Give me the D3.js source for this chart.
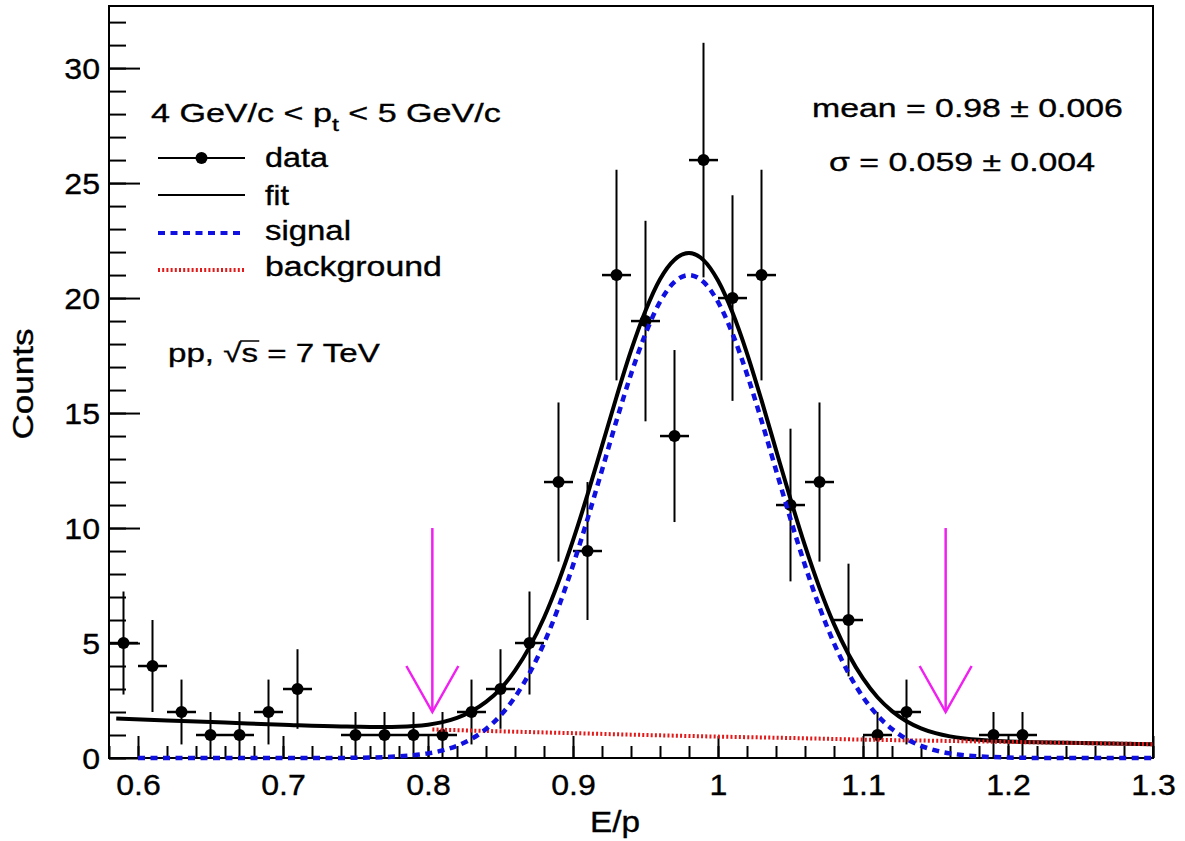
<!DOCTYPE html>
<html>
<head>
<meta charset="utf-8">
<title>E/p fit</title>
<script src="https://cdn.jsdelivr.net/npm/d3@7/dist/d3.min.js"></script>
<style>
  body { margin: 0; background: #fff; }
  text { font-family: "Liberation Sans", Arial, Helvetica, sans-serif; fill: #000; stroke: #000; stroke-width: 0.35; }
</style>
</head>
<body>
<script>
//////// data ////////
// histogram bins (empty bins are not drawn)
var binE      = [0.59,0.61,0.63,0.65,0.67,0.69,0.71,0.75,0.77,0.79,0.81,0.83,0.85,0.87,0.89,
                 0.91,0.93,0.95,0.97,0.99,1.01,1.03,1.05,1.07,1.09,1.11,1.13,1.19,1.21];
var binCounts = [5,4,2,1,1,2,3,1,1,1,1,2,3,5,12,9,21,19,14,26,20,21,11,12,6,1,2,1,1];
var binErr    = [2.24,2,1.41,1,1,1.41,1.73,1,1,1,1,1.41,1.73,2.24,3.46,3,4.58,4.36,3.74,5.1,
                 4.47,4.58,3.32,3.46,2.45,1,1.41,1,1];
var binHalfWidth = 0.01;

// fit curves
var gridE = [0.74,0.75,0.76,0.77,0.78,0.79,0.80,0.81,0.82,0.83,0.84,0.85,0.86,0.87,0.88,0.89,
             0.90,0.91,0.92,0.93,0.94,0.95,0.96,0.97,0.98,0.99,1.00,1.01,1.02,1.03,1.04,1.05,
             1.06,1.07,1.08,1.09,1.10,1.11,1.12,1.13,1.14,1.15,1.16,1.17,1.18,1.19,1.20,1.21,1.22];

var sigE      = [0.60,0.65,0.70].concat(gridE, [1.25,1.30]);
var sigCounts = [0,0,0,
                 0.00,0.01,0.02,0.04,0.07,0.12,0.20,0.33,0.53,0.83,1.26,1.85,2.65,3.69,4.99,6.56,
                 8.38,10.39,12.52,14.67,16.69,18.45,19.83,20.70,21.00,20.70,19.83,18.45,16.69,14.67,12.52,10.39,
                 8.38,6.56,4.99,3.69,2.65,1.85,1.26,0.83,0.53,0.33,0.20,0.12,0.07,0.04,0.02,0.01,0.00,
                 0,0];

var fitE      = [0.585,0.62,0.66,0.70].concat(gridE, [1.26,1.30]);
var fitCounts = [1.72,1.63,1.54,1.45,
                 1.37,1.36,1.35,1.35,1.36,1.39,1.45,1.56,1.74,2.03,2.44,3.01,3.80,4.82,6.10,7.66,
                 9.46,11.45,13.57,15.70,17.71,19.45,20.82,21.67,21.96,21.65,20.76,19.37,17.60,15.56,13.40,11.26,
                 9.23,7.40,5.82,4.51,3.46,2.64,2.04,1.60,1.29,1.08,0.94,0.85,0.79,0.75,0.72,0.70,0.69,
                 0.64,0.60];

var bgE      = [0.803,0.85,0.90,0.95,1.00,1.05,1.10,1.15,1.20,1.25,1.30];
var bgCounts = [1.24,1.16,1.08,1.00,0.93,0.87,0.80,0.75,0.70,0.65,0.60];

// mean -/+ 3 sigma arrows
var arrowE = [0.803, 1.157];
var arrowFrom = 10, arrowTo = 2;

// axes
var xTickVals   = [0.6,0.7,0.8,0.9,1.0,1.1,1.2,1.3];
var xTickLabels = ["0.6","0.7","0.8","0.9","1","1.1","1.2","1.3"];
var yTickVals   = [0,5,10,15,20,25,30];
var yTickLabels = ["0","5","10","15","20","25","30"];

var legendNames = ["data","fit","signal","background"];

//////// svg ////////
var w = 1185, h = 841;
var margin = {top: 6, right: 32, bottom: 83, left: 109};

var svg = d3.select("body").append("svg")
    .attr("width", w)
    .attr("height", h);

var x = d3.scaleLinear().domain([0.58, 1.3]).range([margin.left, w - margin.right]);
var y = d3.scaleLinear().domain([0, 32.7]).range([h - margin.bottom, margin.top]);

// text helper: squeeze/stretch a text to the width seen in the picture
function addText(px, py, parts, size, width, anchor, rot) {
  var g = svg.append("g")
      .attr("transform", "translate(" + px + "," + py + ")" + (rot ? " rotate(" + rot + ")" : ""));
  var inner = g.append("g");
  var t = inner.append("text")
      .attr("font-size", size)
      .attr("text-anchor", anchor || "start");
  parts.forEach(function(p) {
    var ts = t.append("tspan").text(p.t);
    if (p.size) ts.attr("font-size", p.size);
    if (p.dy) ts.attr("dy", p.dy);
  });
  var s = width / t.node().getComputedTextLength();
  inner.attr("transform", "scale(" + s + ",1)");
  return {inner: inner, text: t};
}

//////// axes ////////
var minorX = d3.range(0.58, 1.3001, 0.02);
var minorY = d3.range(0, 33, 1);

function styleAxis(g) {
  g.select(".domain").remove();
  g.attr("font-family", null).attr("font-size", null);
  g.selectAll(".tick line").attr("stroke", "#000").attr("stroke-width", 2);
}

svg.append("g")
   .attr("transform", "translate(0," + y(0) + ")")
   .call(d3.axisBottom(x).tickValues(minorX).tickSize(-12).tickFormat(""))
   .call(styleAxis);

svg.append("g")
   .attr("transform", "translate(0," + y(0) + ")")
   .call(d3.axisBottom(x).tickValues(xTickVals).tickSize(-22)
         .tickFormat(function(d, i) { return xTickLabels[i]; }))
   .call(styleAxis)
   .selectAll("text")
   .attr("y", 37).attr("dy", null)
   .attr("font-size", 30)
   .attr("transform", "scale(1.07,1)");

svg.append("g")
   .attr("transform", "translate(" + x(0.58) + ",0)")
   .call(d3.axisLeft(y).tickValues(minorY).tickSize(-17).tickFormat(""))
   .call(styleAxis);

svg.append("g")
   .attr("transform", "translate(" + x(0.58) + ",0)")
   .call(d3.axisLeft(y).tickValues(yTickVals).tickSize(-31)
         .tickFormat(function(d, i) { return yTickLabels[i]; }))
   .call(styleAxis)
   .selectAll("text")
   .attr("x", 0).attr("dy", "0.36em")
   .attr("font-size", 30)
   .attr("transform", "translate(-9,0) scale(1.07,1)");

// frame
svg.append("rect")
   .attr("x", x(0.58)).attr("y", y(32.7))
   .attr("width", x(1.3) - x(0.58))
   .attr("height", y(0) - y(32.7))
   .attr("fill", "none")
   .attr("stroke", "#000")
   .attr("stroke-width", 2);

// axis titles
addText(590, 832, [{t: "E/p"}], 29, 50, "start");
addText(33, 384, [{t: "Counts"}], 29, 111, "middle", -90);

//////// data points ////////
var pts = binE.map(function(e, i) { return {e: e, c: binCounts[i], err: binErr[i]}; });

var pt = svg.selectAll(".pt").data(pts).enter().append("g").attr("class", "pt");
pt.append("line")
  .attr("x1", function(d) { return x(d.e); })
  .attr("x2", function(d) { return x(d.e); })
  .attr("y1", function(d) { return y(Math.max(0, d.c - d.err)); })
  .attr("y2", function(d) { return y(d.c + d.err); })
  .attr("stroke", "#000").attr("stroke-width", 2);
pt.append("line")
  .attr("x1", function(d) { return x(d.e - binHalfWidth); })
  .attr("x2", function(d) { return x(d.e + binHalfWidth); })
  .attr("y1", function(d) { return y(d.c); })
  .attr("y2", function(d) { return y(d.c); })
  .attr("stroke", "#000").attr("stroke-width", 2.5);
pt.append("circle")
  .attr("cx", function(d) { return x(d.e); })
  .attr("cy", function(d) { return y(d.c); })
  .attr("r", 6)
  .attr("fill", "#000");

//////// curves ////////
var line = d3.line()
    .x(function(d) { return x(d[0]); })
    .y(function(d) { return y(d[1]); })
    .curve(d3.curveMonotoneX);

svg.append("path")
   .attr("d", line(d3.zip(fitE, fitCounts)))
   .attr("fill", "none").attr("stroke", "#000").attr("stroke-width", 4);

svg.append("path")
   .attr("d", line(d3.zip(bgE, bgCounts)))
   .attr("fill", "none").attr("stroke", "#e41a1a").attr("stroke-width", 4)
   .attr("stroke-dasharray", "2,2.2");

svg.append("path")
   .attr("d", line(d3.zip(sigE, sigCounts)))
   .attr("fill", "none").attr("stroke", "#1010e0").attr("stroke-width", 4.5)
   .attr("stroke-dasharray", "7,5.5");

//////// arrows ////////
arrowE.forEach(function(e) {
  var ax = x(e), y0 = y(arrowFrom), y1 = y(arrowTo);
  svg.append("line")
     .attr("x1", ax).attr("x2", ax).attr("y1", y0).attr("y2", y1)
     .attr("stroke", "#f020f0").attr("stroke-width", 2.5);
  svg.append("path")
     .attr("d", "M" + (ax - 26) + "," + (y1 - 46) + "L" + ax + "," + y1 + "L" + (ax + 26) + "," + (y1 - 46))
     .attr("fill", "none").attr("stroke", "#f020f0").attr("stroke-width", 2.5);
});

//////// legend ////////
addText(151, 122, [{t: "4 GeV/c < p"}, {t: "t", size: 19, dy: 9}, {t: " < 5 GeV/c", dy: -9}], 26, 350, "start");

var legRows = [158, 195, 233, 270];
var legText = [167, 205, 240, 276];
var legWidth = [63, 24, 86, 177];
var lx0 = 158, lx1 = 245;

svg.append("line").attr("x1", lx0).attr("x2", lx1).attr("y1", legRows[0]).attr("y2", legRows[0])
   .attr("stroke", "#000").attr("stroke-width", 2);
svg.append("circle").attr("cx", (lx0 + lx1) / 2).attr("cy", legRows[0]).attr("r", 6).attr("fill", "#000");
svg.append("line").attr("x1", lx0).attr("x2", lx1).attr("y1", legRows[1]).attr("y2", legRows[1])
   .attr("stroke", "#000").attr("stroke-width", 2);
svg.append("line").attr("x1", lx0).attr("x2", lx1).attr("y1", legRows[2]).attr("y2", legRows[2])
   .attr("stroke", "#1010e0").attr("stroke-width", 4).attr("stroke-dasharray", "7,5.5");
svg.append("line").attr("x1", lx0).attr("x2", lx1).attr("y1", legRows[3]).attr("y2", legRows[3])
   .attr("stroke", "#e41a1a").attr("stroke-width", 4).attr("stroke-dasharray", "2,2.2");

legendNames.forEach(function(n, i) {
  addText(265, legText[i], [{t: n}], 27, legWidth[i], "start");
});

// fit results
addText(812, 117, [{t: "mean = 0.98 \u00b1 0.006"}], 26, 311, "start");
addText(829, 171, [{t: "\u03c3 = 0.059 \u00b1 0.004"}], 26, 266, "start");

// collision system, with an overline over the s of the square root
var pp = addText(168, 362, [{t: "pp, \u221a"}, {t: "s"}, {t: " = 7 TeV"}], 26, 212, "start");
var node = pp.text.node();
var s0 = node.getStartPositionOfChar(5), s1 = node.getEndPositionOfChar(5);
pp.inner.append("line")
  .attr("x1", s0.x - 1).attr("x2", s1.x + 1)
  .attr("y1", -21).attr("y2", -21)
  .attr("stroke", "#000").attr("stroke-width", 1.5);
</script>
</body>
</html>
